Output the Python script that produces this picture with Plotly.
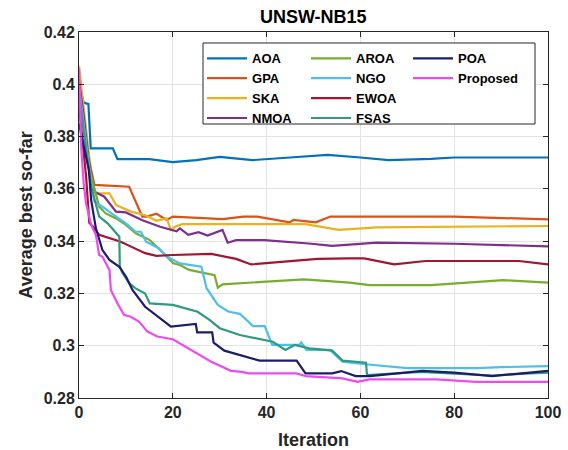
import plotly.graph_objects as go

# ---------------- data ----------------
names = ["AOA", "GPA", "SKA", "NMOA", "AROA", "NGO", "EWOA", "FSAS", "POA", "Proposed"]
colors = ["#0072BD", "#D95319", "#EDB120", "#7E2F8E", "#77AC30",
          "#4DBEEE", "#A2142F", "#2E9A7E", "#1C1C6C", "#EE4BEE"]

aoa_x = [0, 1, 1.5, 2, 2.5, 7.2, 8.2, 15, 20, 25, 30, 37, 45, 53, 60, 66, 75, 80, 100]
aoa_y = [0.400, 0.393, 0.3927, 0.3925, 0.3755, 0.3755, 0.3714, 0.3714, 0.3702, 0.371, 0.3722,
         0.371, 0.372, 0.373, 0.372, 0.371, 0.3715, 0.372, 0.372]

gpa_x = [0, 1, 2, 3.3, 10.7, 13.5, 14.5, 16.5, 17.5, 18.7, 20, 25, 30.7, 35, 38, 44.9, 45.7,
         50.5, 53.6, 80, 100]
gpa_y = [0.398, 0.385, 0.372, 0.3615, 0.3608, 0.3494, 0.3494, 0.3505, 0.3494, 0.3481, 0.3494,
         0.349, 0.3484, 0.3494, 0.3494, 0.3472, 0.3481, 0.3472, 0.3494, 0.3494, 0.3483]

ska_x = [0, 1, 2, 2.9, 3.6, 6.5, 7.9, 11.1, 14.3, 16.5, 18.7, 19.6, 20.5, 22, 48.3, 55.4, 63.5, 100]
ska_y = [0.407, 0.39, 0.375, 0.3621, 0.3583, 0.3583, 0.3538, 0.3513, 0.3498, 0.3478, 0.3487,
         0.3443, 0.3455, 0.3465, 0.3465, 0.3443, 0.3453, 0.3458]

nmoa_x = [0, 1, 2, 3.3, 5.4, 7.9, 10, 13.5, 17.3, 20.8, 21.5, 23.3, 25.5, 27.4, 30.6, 31.7,
          33.5, 39.5, 49, 54, 63.5, 80, 100]
nmoa_y = [0.401, 0.388, 0.372, 0.3589, 0.357, 0.3513, 0.351, 0.348, 0.3455, 0.3438, 0.3449,
          0.3424, 0.3434, 0.3421, 0.3443, 0.3394, 0.3404, 0.3404, 0.3391, 0.3382, 0.3394, 0.339, 0.338]

aroa_x = [0, 1, 2, 3, 4.3, 5.7, 7.9, 10, 12.1, 13.5, 15.1, 17.3, 20.1, 21.5, 23.5, 28.9, 29.6,
          30.6, 48, 57.7, 62, 75, 90.5, 100]
aroa_y = [0.396, 0.384, 0.37, 0.362, 0.3532, 0.3506, 0.3487, 0.3462, 0.343, 0.3417, 0.3404,
          0.3366, 0.3315, 0.3309, 0.329, 0.327, 0.3222, 0.3235, 0.3254, 0.3241, 0.3232, 0.3232,
          0.3251, 0.3241]

ngo_x = [0, 1, 2, 2.6, 3.3, 5, 7.9, 10, 12.1, 13.2, 14.3, 17, 18.7, 21.5, 26.1, 27.2, 29.6,
         31.8, 34.3, 37.1, 39.6, 41.2, 47, 47.4, 48.5, 53.5, 56.2, 61, 70, 85, 90, 96.4, 100]
ngo_y = [0.399, 0.385, 0.37, 0.362, 0.3551, 0.3532, 0.3494, 0.3468, 0.3436, 0.3436, 0.3398,
         0.3373, 0.3341, 0.3315, 0.3302, 0.322, 0.3156, 0.3131, 0.3122, 0.3075, 0.3075, 0.3003,
         0.3003, 0.3013, 0.2984, 0.2984, 0.2939, 0.2929, 0.2914, 0.2914, 0.2918, 0.2922, 0.2922]

ewoa_x = [0, 0.7, 1.5, 2.2, 3, 4.3, 6.5, 8.9, 11.1, 14.1, 16.5, 20, 28.2, 33.5, 36.7, 44.5,
          50.9, 57.7, 60.8, 67.2, 73.9, 93.8, 100]
ewoa_y = [0.392, 0.38, 0.365, 0.347, 0.3455, 0.3424, 0.3411, 0.3398, 0.3379, 0.3354, 0.3344,
          0.3347, 0.3351, 0.3332, 0.3311, 0.3324, 0.3332, 0.3334, 0.3334, 0.3311, 0.3324, 0.3324,
          0.3311]

fsas_x = [0, 1, 2.6, 4.3, 6.1, 8.6, 8.7, 9.3, 10.7, 12, 14.1, 15.1, 20, 25.3, 27.9, 30, 34.3,
          37.5, 41.3, 44, 46, 49.1, 54, 56.2, 61.2, 61.4, 66, 73, 80, 88, 95, 100]
fsas_y = [0.397, 0.382, 0.3608, 0.3494, 0.3468, 0.3417, 0.3302, 0.3277, 0.3239, 0.322, 0.32,
          0.3162, 0.3156, 0.313, 0.3098, 0.3067, 0.3041, 0.3028, 0.3015, 0.2984, 0.3003, 0.299,
          0.2981, 0.2943, 0.2935, 0.2888, 0.2893, 0.29, 0.2893, 0.2886, 0.2893, 0.2897]

poa_x = [0, 1, 2.1, 2.6, 3.6, 5, 6.5, 8.6, 10.1, 11.4, 14.1, 19.6, 24.9, 25.2, 28.4, 28.7, 31,
         38.5, 46.4, 48.3, 54, 55.9, 59, 62, 73.2, 80, 88.1, 95, 100]
poa_y = [0.385, 0.376, 0.3672, 0.3557, 0.3449, 0.3366, 0.3328, 0.3302, 0.3262, 0.3213, 0.3149,
         0.3073, 0.3083, 0.3051, 0.3051, 0.3012, 0.2981, 0.2943, 0.2943, 0.2894, 0.2894, 0.2903,
         0.2884, 0.2884, 0.2904, 0.2897, 0.2884, 0.2895, 0.2904]

prop_x = [0, 0.5, 1, 1.5, 2.6, 3.6, 4.3, 5, 6.5, 6.8, 8.2, 9.6, 11, 12.8, 14.6, 16.7, 20, 25.7,
          28.2, 32.4, 34.7, 36.1, 46.3, 48.4, 56.2, 59.4, 61.9, 76.2, 84.7, 100]
prop_y = [0.406, 0.375, 0.362, 0.3545, 0.3462, 0.3424, 0.3347, 0.334, 0.329, 0.3213, 0.3162,
          0.3118, 0.3111, 0.3092, 0.3054, 0.3035, 0.3025, 0.2965, 0.2939, 0.2904, 0.29, 0.2894,
          0.2894, 0.2884, 0.2875, 0.2862, 0.2871, 0.2871, 0.2862, 0.2862]

series_x = [aoa_x, gpa_x, ska_x, nmoa_x, aroa_x, ngo_x, ewoa_x, fsas_x, poa_x, prop_x]
series_y = [aoa_y, gpa_y, ska_y, nmoa_y, aroa_y, ngo_y, ewoa_y, fsas_y, poa_y, prop_y]
legend_ids = ["legend"] * 4 + ["legend2"] * 4 + ["legend3"] * 2

x_ticks = [0, 20, 40, 60, 80, 100]
y_ticks = [0.28, 0.30, 0.32, 0.34, 0.36, 0.38, 0.40, 0.42]
y_tick_text = ["0.28", "0.3", "0.32", "0.34", "0.36", "0.38", "0.4", "0.42"]

# ---------------- figure ----------------
FONT = "Liberation Sans, Arial, sans-serif"
fig = go.Figure()
for nm, c, xs, ys, lg in zip(names, colors, series_x, series_y, legend_ids):
    fig.add_trace(go.Scatter(x=xs, y=ys, mode="lines", name=nm, legend=lg,
                             line=dict(color=c, width=2.2)))

axis_common = dict(showline=True, linecolor="#262626", linewidth=1, mirror="ticks",
                   ticks="inside", ticklen=5, tickcolor="#262626", automargin=False,
                   showgrid=True, gridcolor="#E3E3E3", gridwidth=1, zeroline=False,
                   tickfont=dict(family=FONT, size=16, color="#262626", weight="bold"))

fig.update_xaxes(range=[0, 100], tickvals=x_ticks,
                 title=dict(text="Iteration", standoff=13,
                            font=dict(family=FONT, size=18, color="#262626", weight="bold")),
                 **axis_common)
fig.update_yaxes(range=[0.28, 0.42], tickvals=y_ticks, ticktext=y_tick_text,
                 title=dict(text="Average best so-far", standoff=6,
                            font=dict(family=FONT, size=18, color="#262626", weight="bold")),
                 **axis_common)

leg_common = dict(orientation="v", yanchor="top", xanchor="left", y=0.969,
                  bgcolor="rgba(0,0,0,0)", borderwidth=0, itemwidth=40,
                  font=dict(family=FONT, size=13, color="#000000", weight="bold"),
                  tracegroupgap=0)

fig.update_layout(
    width=568, height=450, autosize=False,
    margin=dict(l=79, r=20, t=32, b=52),
    paper_bgcolor="white", plot_bgcolor="white",
    title=dict(text="UNSW-NB15", x=0.5515, xanchor="center", y=0.962, yanchor="middle",
               font=dict(family=FONT, size=18, color="#000000", weight="bold")),
    showlegend=True,
    legend=dict(x=0.2623, **leg_common),
    legend2=dict(x=0.484, **leg_common),
    legend3=dict(x=0.7015, **leg_common),
    shapes=[dict(type="rect", xref="paper", yref="paper", x0=0.2644, x1=0.9723,
                 y0=0.7486, y1=0.970, line=dict(color="#262626", width=1),
                 fillcolor="white", layer="above")],
)

fig.write_html("out.html")
